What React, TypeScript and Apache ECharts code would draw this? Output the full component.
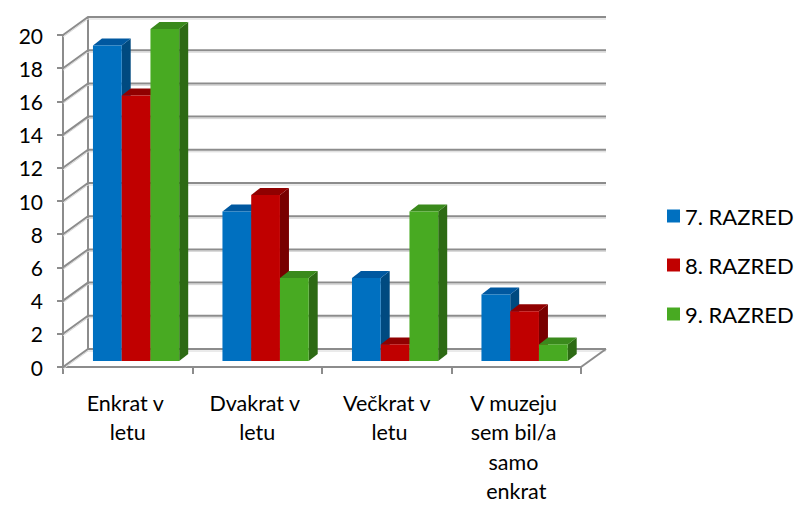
import React, { useEffect, useRef } from "react";
import * as echarts from "echarts";

const categories = ["Enkrat v letu", "Dvakrat v letu", "Večkrat v letu", "V muzeju sem bil/a samo enkrat"];
const seriesNames = ["7. RAZRED", "8. RAZRED", "9. RAZRED"];
const razred7 = [19, 9, 5, 4];
const razred8 = [16, 10, 1, 3];
const razred9 = [20, 5, 9, 1];
const yTicks = [0, 2, 4, 6, 8, 10, 12, 14, 16, 18, 20];

const FONT = "Lato, 'Noto Sans', sans-serif";
const DX = 25;
const DY = -18;
const BAR_DX = 9;
const BAR_DY = -7;
const FRONT_F = 1 / 3;
const BAR_FRAC = 0.222;
const GRID_COLOR = "#8c8c8c";

const palettes = [
  { front: "#0070C0", top: "#0058a0", side: "#004a80" },
  { front: "#C00000", top: "#900000", side: "#780000" },
  { front: "#48AA22", top: "#3a8a1c", side: "#2d6a14" },
];

function makeBarRender(s: number) {
  return (params: any, api: any) => {
    const cat = api.value(0);
    const val = api.value(1);
    const top = api.coord([cat, val]);
    const base = api.coord([cat, 0]);
    const band = api.size([1, 0])[0];
    const w = band * BAR_FRAC;
    const x1 = top[0] - 1.5 * w + s * w + DX * FRONT_F;
    const x2 = x1 + w;
    const yT = top[1] + DY * FRONT_F;
    const yB = base[1] + DY * FRONT_F;
    const p = palettes[s];
    return {
      type: "group",
      children: [
        {
          type: "polygon",
          shape: { points: [[x2, yT], [x2 + BAR_DX, yT + BAR_DY], [x2 + BAR_DX, yB + BAR_DY], [x2, yB]] },
          style: { fill: p.side },
        },
        {
          type: "polygon",
          shape: { points: [[x1, yT], [x1 + BAR_DX, yT + BAR_DY], [x2 + BAR_DX, yT + BAR_DY], [x2, yT]] },
          style: { fill: p.top },
        },
        {
          type: "rect",
          shape: { x: x1, y: yT, width: w, height: yB - yT },
          style: { fill: p.front },
        },
      ],
    };
  };
}

function frameRender(params: any, api: any) {
  const v = api.value(0);
  const cs = params.coordSys;
  const x0 = cs.x;
  const xR = cs.x + cs.width;
  const y = api.coord([0, v])[1];
  const children: any[] = [
    {
      type: "polyline",
      shape: { points: [[x0, y], [x0 + DX, y + DY], [xR + DX, y + DY]] },
      style: { stroke: "#d6d6d6", lineWidth: 1, fill: "none" },
      x: 0,
      y: 2,
    },
    {
      type: "polyline",
      shape: { points: [[x0, y], [x0 + DX, y + DY], [xR + DX, y + DY]] },
      style: { stroke: GRID_COLOR, lineWidth: 2, fill: "none" },
    },
  ];
  if (v === 0) {
    const yTop = cs.y;
    children.push({
      type: "line",
      shape: { x1: x0 + DX, y1: yTop + DY, x2: x0 + DX, y2: y + DY },
      style: { stroke: GRID_COLOR, lineWidth: 2 },
    });
    children.push({
      type: "line",
      shape: { x1: xR, y1: y, x2: xR + DX, y2: y + DY },
      style: { stroke: GRID_COLOR, lineWidth: 2 },
    });
  }
  return { type: "group", children };
}

export default function App() {
  const ref = useRef<HTMLDivElement>(null);
  useEffect(() => {
    if (!ref.current) return;
    const chart = echarts.init(ref.current, undefined, { renderer: "svg" });
    const seriesData = [razred7, razred8, razred9];
    chart.setOption({
      animation: false,
      backgroundColor: "#ffffff",
      textStyle: { fontFamily: FONT },
      grid: { left: 63, right: 213, top: 35, bottom: 140, containLabel: false, outerBoundsMode: "none" },
      legend: {
        orient: "vertical",
        left: 662,
        top: 200,
        icon: "rect",
        itemWidth: 13,
        itemHeight: 13,
        itemGap: 27,
        data: seriesNames,
        textStyle: { fontFamily: FONT, fontSize: 22, lineHeight: 20, color: "#000" },
      },
      xAxis: {
        type: "category",
        data: categories,
        axisLine: { lineStyle: { color: GRID_COLOR, width: 2 } },
        axisTick: { show: true, length: 7, lineStyle: { color: GRID_COLOR, width: 2 } },
        axisLabel: {
          interval: 0,
          margin: 21,
          color: "#000",
          fontFamily: FONT,
          fontSize: 21.5,
          lineHeight: 29.5,
          width: 104,
          overflow: "break",
        },
        splitLine: { show: false },
      },
      yAxis: {
        type: "value",
        min: 0,
        max: 20,
        interval: 2,
        axisLine: { show: true, lineStyle: { color: GRID_COLOR, width: 2 } },
        axisTick: { show: true, length: 6, lineStyle: { color: GRID_COLOR, width: 2 } },
        axisLabel: { color: "#000", fontFamily: FONT, fontSize: 21, margin: 20 },
        splitLine: { show: false },
      },
      series: [
        {
          type: "custom",
          name: "frame",
          renderItem: frameRender,
          data: yTicks.map((v) => [v]),
          encode: { y: 0 },
          z: 1,
          silent: true,
        },
        ...seriesData.map((arr, s) => ({
          type: "custom",
          name: seriesNames[s],
          itemStyle: { color: palettes[s].front },
          renderItem: makeBarRender(s),
          data: arr.map((v, i) => [i, v]),
          encode: { x: 0, y: 1 },
          z: 2 + s,
        })),
      ],
    });
    return () => chart.dispose();
  }, []);
  return <div ref={ref} style={{ width: 794, height: 507, position: "absolute", left: 0, top: 0 }} />;
}
